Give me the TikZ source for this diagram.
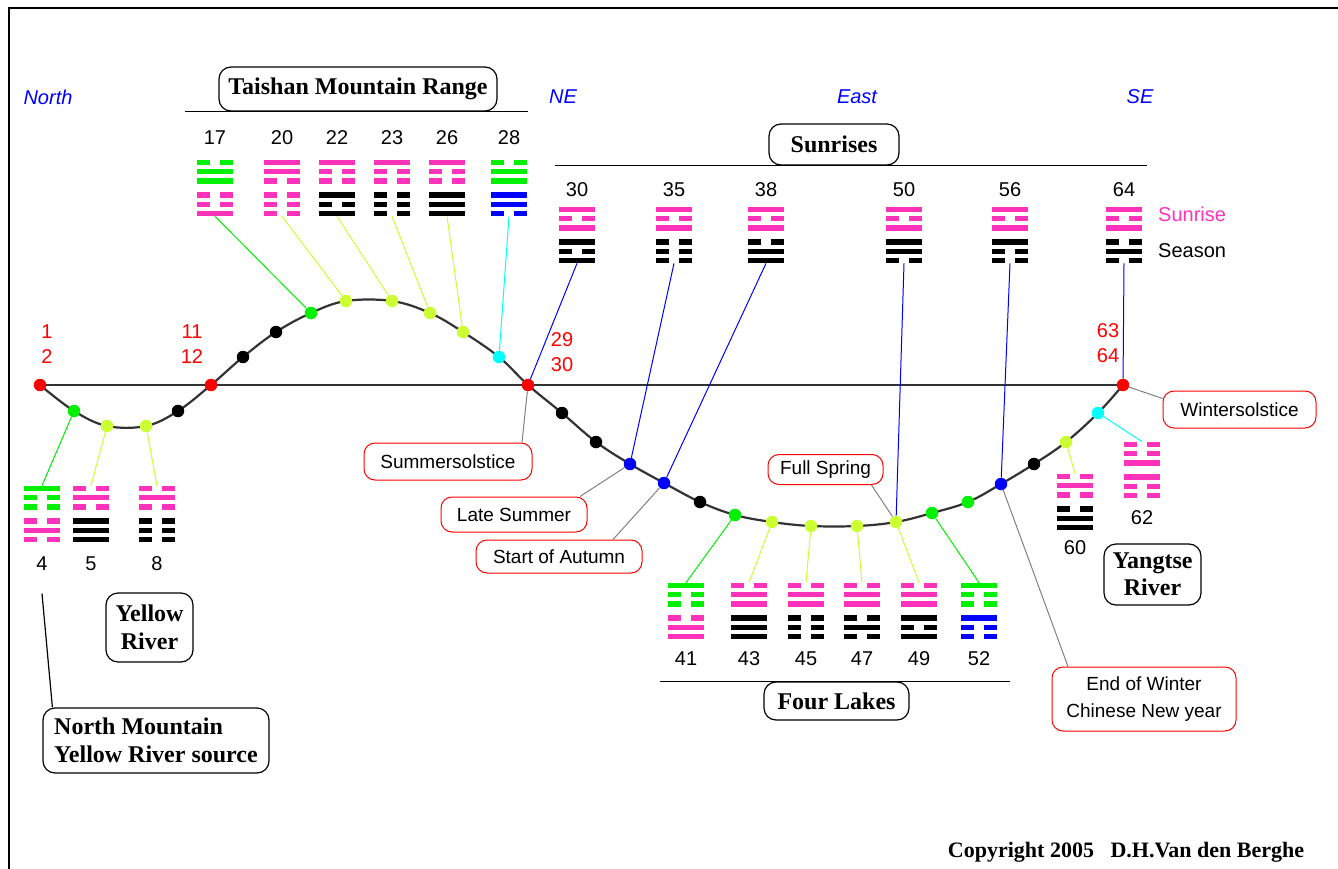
\documentclass[tikz,border=0pt]{standalone}
\usepackage{fontspec}
\setmainfont{Liberation Serif}
\setsansfont{Liberation Sans}
\usetikzlibrary{positioning,calc}

\definecolor{hexpink}{RGB}{255,51,187}
\definecolor{hexlime}{RGB}{204,255,51}
\definecolor{hexgreen}{RGB}{0,240,0}
\definecolor{hexblue}{RGB}{0,0,255}
\definecolor{hexcyan}{RGB}{0,255,255}
\definecolor{hexred}{RGB}{255,0,0}

\newcommand\triQian{1,1,1}
\newcommand\triDui{0,1,1}
\newcommand\triLi{1,0,1}
\newcommand\triZhen{0,0,1}
\newcommand\triXun{1,1,0}
\newcommand\triKan{0,1,0}
\newcommand\triGen{1,0,0}
\newcommand\triKun{0,0,0}

\newcommand\yao[4]{%
  \ifnum#3=1
    \fill[#2] ($(#1.north west)+(0,{#4})$) rectangle ++(36,5.5);
  \else
    \fill[#2] ($(#1.north west)+(0,{#4})$) rectangle ++(13.3,5.5);
    \fill[#2] ($(#1.north east)+(0,{#4})$) rectangle ++(-13.3,5.5);
  \fi}

\newcommand\hexagram[6]{%
  \node[hexbox] (#1) at (#2) {};
  \foreach \yaotype [count=\k] in #4 {\yao{#1}{#3}{\yaotype}{(\k-1)*9.3}}
  \foreach \yaotype [count=\k] in #6 {\yao{#1}{#5}{\yaotype}{(\k+2)*9.3+4.7}}}

\begin{document}
\begin{tikzpicture}[x=1pt, y=-1pt,
    num/.style={font=\sffamily\fontsize{20}{25}\selectfont, inner sep=0pt},
    pair/.style={num, text=hexred, align=center},
    compass/.style={font=\sffamily\itshape\fontsize{20}{22}\selectfont, text=hexblue, inner sep=0pt},
    hexbox/.style={minimum width=36, minimum height=56.7, inner sep=0pt, outer sep=0pt},
    dot/.style={circle, minimum size=12.5, inner sep=0pt},
    curve/.style={line width=2.2, draw=black!80},
    link/.style={line width=1},
    note/.style={line width=1, draw=gray},
    rule/.style={line width=1.3},
    tag/.style={draw=hexred, line width=1, rounded corners=11, font=\sffamily\fontsize{19}{27}\selectfont, align=center},
    place/.style={draw, line width=1.2, rounded corners=12, font=\bfseries\fontsize{24}{27.5}\selectfont, align=center}]
      \useasboundingbox (0,0) rectangle (1338,869);
      \draw[line width=1.5] (9,869) -- (9,8) -- (1338,8);

      \foreach \px/\py [count=\i] in {40/385, 74/411, 107/426, 146/426, 178/411, 211/385,
          243/357, 276/332, 311/313, 346/301, 392/301, 430/313, 463/332, 499/357, 528/385,
          562/413, 596/442, 630/464, 664/483, 700/502, 735/515, 772/522, 811/526, 857/526,
          896/522, 932/513, 968/502, 1001/484, 1034/464, 1066/442, 1098/413, 1123/385}
        \coordinate (p\i) at (\px,\py);

      \draw[curve] (p1) -- (p32);
      \draw[curve] plot[smooth, tension=0.6] coordinates {(p1) (p2) (p3) (p4) (p5) (p6) (p7) (p8)
          (p9) (p10) (p11) (p12) (p13) (p14) (p15) (p16) (p17) (p18) (p19) (p20) (p21) (p22)
          (p23) (p24) (p25) (p26) (p27) (p28) (p29) (p30) (p31) (p32)};

      \foreach \c [count=\i] in {hexred, hexgreen, hexlime, hexlime, black, hexred, black, black,
          hexgreen, hexlime, hexlime, hexlime, hexlime, hexcyan, hexred, black, black, hexblue,
          hexblue, black, hexgreen, hexlime, hexlime, hexlime, hexlime, hexgreen, hexgreen,
          hexblue, black, hexlime, hexcyan, hexred}
        \node[dot, fill=\c] (d\i) at (p\i) {};

      \node[pair] (r1) at (47,344) {1\\2};
      \node[pair] (r6) at (192,344) {11\\12};
      \node[pair] (r15) at (562,352) {29\\30};
      \node[pair] (r32) at (1108,343) {63\\64};

      \node[compass] (north) at (48,97) {North};
      \node[compass] (ne) at (563,97) {NE};
      \node[compass] (east) at (857,97) {East};
      \node[compass] (se) at (1140,97) {SE};

      \hexagram{h17}{215,188}{hexgreen}{\triDui}{hexpink}{\triZhen}
      \hexagram{h20}{282,188}{hexpink}{\triXun}{hexpink}{\triKun}
      \hexagram{h22}{337,188}{hexpink}{\triGen}{black}{\triLi}
      \hexagram{h23}{392,188}{hexpink}{\triGen}{black}{\triKun}
      \hexagram{h26}{447,188}{hexpink}{\triGen}{black}{\triQian}
      \hexagram{h28}{509,188}{hexgreen}{\triDui}{hexblue}{\triXun}

      \hexagram{h30}{577,235}{hexpink}{\triLi}{black}{\triLi}
      \hexagram{h35}{674,235}{hexpink}{\triLi}{black}{\triKun}
      \hexagram{h38}{766,235}{hexpink}{\triLi}{black}{\triDui}
      \hexagram{h50}{904,235}{hexpink}{\triLi}{black}{\triXun}
      \hexagram{h56}{1010,235}{hexpink}{\triLi}{black}{\triGen}
      \hexagram{h64}{1124,235}{hexpink}{\triLi}{black}{\triKan}

      \hexagram{h4}{42,514}{hexgreen}{\triGen}{hexpink}{\triKan}
      \hexagram{h5}{91,514}{hexpink}{\triKan}{black}{\triQian}
      \hexagram{h8}{157,514}{hexpink}{\triKan}{black}{\triKun}

      \hexagram{h41}{686,611}{hexgreen}{\triGen}{hexpink}{\triDui}
      \hexagram{h43}{749,611}{hexpink}{\triDui}{black}{\triQian}
      \hexagram{h45}{806,611}{hexpink}{\triDui}{black}{\triKun}
      \hexagram{h47}{862,611}{hexpink}{\triDui}{black}{\triKan}
      \hexagram{h49}{919,611}{hexpink}{\triDui}{black}{\triLi}
      \hexagram{h52}{979,611}{hexgreen}{\triGen}{hexblue}{\triGen}

      \hexagram{h60}{1075,502}{hexpink}{\triKan}{black}{\triDui}
      \hexagram{h62}{1142,470}{hexpink}{\triZhen}{hexpink}{\triGen}

      \foreach \h in {17,20,22,23,26,28} \node[num, above=15pt of h\h] (n\h) {\h};
      \foreach \h in {30,35,38,50,56,64} \node[num, above=10pt of h\h] (n\h) {\h};
      \foreach \h in {4,5,8} \node[num, below=14pt of h\h] (n\h) {\h};
      \foreach \h in {41,43,45,47,49,52} \node[num, below=12pt of h\h] (n\h) {\h};
      \node[num, below=10pt of h60] (n60) {60};
      \node[num, below=12pt of h62] (n62) {62};

      \node[num, anchor=west, text=hexpink] (sunrise) at (1158,214) {Sunrise};
      \node[num, anchor=west] (season) at (1158,251) {Season};

      \draw[link, hexgreen] (d2) -- (h4.north);
      \draw[link, hexlime] (d3) -- (h5.north);
      \draw[link, hexlime] (d4) -- (h8.north);
      \draw[link, hexgreen] (d9) -- (h17.south);
      \draw[link, hexlime] (d10) -- (h20.south);
      \draw[link, hexlime] (d11) -- (h22.south);
      \draw[link, hexlime] (d12) -- (h23.south);
      \draw[link, hexlime] (d13) -- (h26.south);
      \draw[link, hexcyan] (d14) -- (h28.south);
      \draw[link, hexgreen] (d21) -- (h41.north);
      \draw[link, hexlime] (d22) -- (h43.north);
      \draw[link, hexlime] (d23) -- (h45.north);
      \draw[link, hexlime] (d24) -- (h47.north);
      \draw[link, hexlime] (d25) -- (h49.north);
      \draw[link, hexgreen] (d26) -- (h52.north);
      \draw[link, hexlime] (d30) -- (h60.north);
      \draw[link, hexcyan] (d31) -- (h62.north);

      \draw[link, hexblue] (d15) -- (h30.south);
      \draw[link, hexblue] (d18) -- (h35.south);
      \draw[link, hexblue] (d19) -- (h38.south);
      \draw[link, hexblue] (d25) -- (h50.south);
      \draw[link, hexblue] (d28) -- (h56.south);
      \draw[link, hexblue] (d32) -- (h64.south);

      \node[place, minimum width=278, minimum height=44] (taishan) at (358,89) {Taishan Mountain Range};
      \draw[rule] ([xshift=-173pt]taishan.south) -- ([xshift=170pt]taishan.south);
      \node[place, minimum width=130, minimum height=41] (sunrises) at (834,144.5) {Sunrises};
      \draw[rule] ([xshift=-279pt]sunrises.south) -- ([xshift=313pt]sunrises.south);
      \node[place, minimum width=145, minimum height=38] (lakes) at (836.5,701) {Four Lakes};
      \draw[rule] ([xshift=-176.5pt]lakes.north) -- ([xshift=173.5pt]lakes.north);

      \node[place, minimum width=87, minimum height=69] (yellow) at (149.5,627.5) {Yellow\\River};
      \node[place, minimum width=226, minimum height=65, align=left] (mountain) at (156,740.5) {North Mountain\\Yellow River source};
      \node[place, minimum width=97, minimum height=61] (yangtse) at (1152.5,574.5) {Yangtse\\River};
      \draw[line width=1.2] ([yshift=-23pt]n4.south) -- ([xshift=10pt]mountain.north west);

      \node[tag, minimum width=168, minimum height=37] (summer) at (448,461.5) {Summersolstice};
      \node[tag, minimum width=146, minimum height=35] (late) at (514,514.5) {Late Summer};
      \node[tag, minimum width=166, minimum height=33] (autumn) at (559,556.5) {Start of Autumn};
      \node[tag, minimum width=115, minimum height=30] (spring) at (825.5,469.5) {Full Spring};
      \node[tag, minimum width=153, minimum height=37] (winter) at (1239.5,409.5) {Wintersolstice};
      \node[tag, minimum width=184, minimum height=64] (newyear) at (1144,699) {End of Winter\\Chinese New year};

      \draw[note] (d15) -- ([xshift=74pt]summer.north);
      \draw[note] (d18) -- ([xshift=66pt]late.north);
      \draw[note] (d19) -- ([xshift=54pt]autumn.north);
      \draw[note] (d25) -- ([xshift=46pt]spring.south);
      \draw[note] (d28) -- ([xshift=-76pt]newyear.north);
      \draw[note] (d32) -- ([yshift=11pt]winter.west);

      \node[font=\bfseries\fontsize{22}{24}\selectfont, inner sep=0pt] (copyright) at (1126,852) {Copyright 2005\hspace{0.5em} D.H.Van den Berghe};
\end{tikzpicture}
\end{document}
